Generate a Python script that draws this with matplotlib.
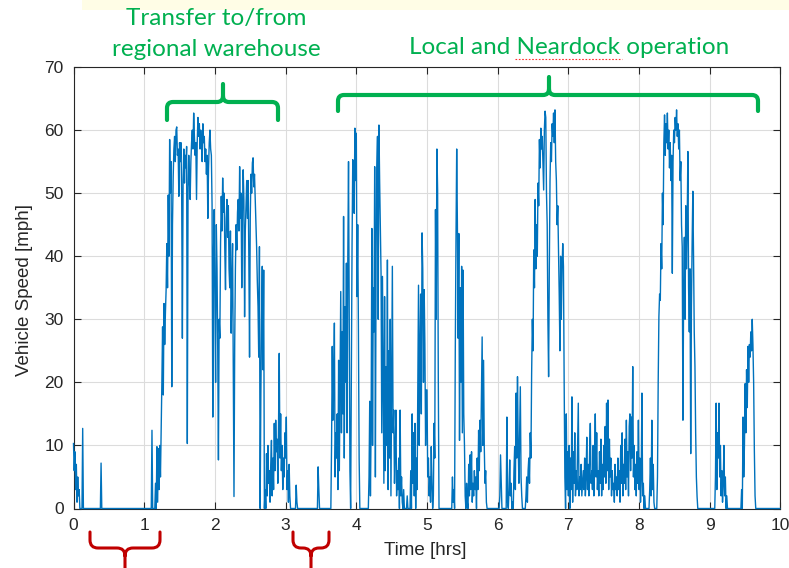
import numpy as np
import matplotlib
matplotlib.use("Agg")
import matplotlib.pyplot as plt
from matplotlib.path import Path
from matplotlib.patches import PathPatch, Rectangle
from matplotlib.lines import Line2D

# speed samples [mph], one list per hour (0.01 hr steps)
hour0 = [10.3, 6, 9, 3, 7, 1, 5, 2, 3] + [0] * 4 + [12.7, 0] + [0] * 24 + [7.2] + [0] * 60
hour1 = [0] * 11 + [12.4, 0, 0, 0, 0, 4, 0, 9.8, 1, 9.5,
                    3, 10, 5, 12, 20, 28.8, 18, 32.5, 26, 31,
                    34.7, 42, 35, 49.7, 40, 58.5, 50, 55, 19.3, 45,
                    52.6, 57, 59, 55, 60, 60.5, 56, 57, 49.5, 58,
                    55, 58, 50, 27, 52, 57, 51.6, 56, 54, 57.4,
                    10.3, 50, 56, 52, 49, 55, 58, 60, 57, 62.7,
                    59, 56, 58, 49, 58, 62, 59, 61, 57, 60,
                    58, 55, 61, 58, 59, 55, 57, 53, 56, 46,
                    54, 58, 60, 57, 56, 48, 14.5, 40, 47.4]
hour2 = [32, 20, 45, 38, 25, 7.7, 30, 27, 42, 49.5,
         44, 52.4, 47, 50, 41, 34.7, 46, 49, 43, 48,
         38, 35, 44, 27.8, 36, 42, 22, 1.9, 26, 38,
         45, 41, 47, 49, 44, 54.2, 46, 50, 35, 47,
         53.7, 49, 30.4, 44, 48, 52, 46, 52, 40, 24,
         46, 53, 50, 54.8, 55.6, 51, 53, 49, 45, 41.5,
         36, 32, 24, 41.5, 0, 18, 30, 38.4, 22, 37.8,
         0, 3, 0, 8.7, 2, 10, 4, 6, 1, 7,
         10.8, 2, 8, 3, 13.5, 6, 14, 9, 11, 4,
         13, 24.6, 8, 15, 6, 10, 3, 8, 5, 12]
hour3 = ([8, 14.5, 3, 6, 1, 7, 2, 0, 0, 0, 0, 0, 0, 0, 0, 3.7, 1] + [0] * 29
         + [6.6, 3] + [0] * 17
         + [10, 25.7, 14, 20, 29.4, 5, 12, 8, 15, 3,
            23.5, 6, 20, 34.4, 12, 28, 15, 46.3, 8, 32,
            20, 38.9, 12, 40, 55, 30, 6, 0, 20, 42,
            55.3, 50, 46.8, 60.3, 52])
hour4 = ([59.5, 33.6, 45, 28.3, 8] + [0] * 13
         + [5, 17, 2, 14, 44.4, 10, 35, 28, 54.2, 5, 40, 54,
            59, 30, 60.8, 52, 44.7, 37.3, 12, 36.8, 20, 4,
            33.6, 6, 22.5, 10, 39.4, 3, 25, 8, 30, 2,
            20, 38.4, 12, 15.6, 4, 9, 15.6, 2, 6, 3,
            8, 0, 15.6, 2, 5, 1, 0, 3, 0, 0,
            0, 0, 2, 0, 0, 0, 0, 6, 0, 15,
            4, 12, 2, 13.5, 0, 8, 3, 20, 35.4, 10,
            25, 34, 15, 43.7, 38, 20, 34.7, 26, 10, 18.8])
hour5 = ([18.8, 5, 8, 2, 5, 1, 9.8, 4, 0, 2, 13.5, 8, 47.4, 30, 57, 50.5, 20, 0]
         + [0] * 17
         + [0, 5, 1, 3, 0,
            25, 42.6, 57, 45, 27, 43.6, 10.8, 35, 20, 38.4,
            12, 37.8, 15, 10, 2, 0, 4, 1, 0, 7,
            2, 8.5, 3, 9, 1, 4, 2, 6, 3, 5,
            0, 8, 3, 12.4, 6, 14, 9, 18, 27.2, 10,
            23.5, 9.8, 4, 6, 1, 0] + [0] * 14)
hour6 = ([0, 0, 0, 2, 8.5, 4, 0] + [0] * 6
         + [14.5, 1, 0, 3, 7.7, 2, 4, 0, 1, 0,
            6, 9.8, 3, 18.3, 8, 20.9, 10, 4, 12, 19.3,
            5, 2, 0, 0, 0, 0, 0, 2, 5, 1, 6, 8]
         + [4, 12, 8, 21.4, 30, 25, 41, 35, 49, 38,
            45, 40, 51.6, 48, 58.5, 54, 60.3, 57, 59, 55,
            50.5, 60, 63, 62, 50, 45, 30, 20.9, 38, 52,
            58, 55, 61, 59, 62.7, 58, 63.2, 55, 52, 45,
            48, 41, 34, 25, 40, 30, 38, 42, 38.4, 20,
            5, 0, 15, 3, 9])
hour7 = [2, 10, 0, 8, 3, 17.7, 1, 9, 4, 12,
         2, 6, 3, 10, 16.7, 2, 5, 3, 7, 2,
         4, 6, 3, 8, 2, 5, 11.3, 3, 7, 2,
         9, 13.5, 4, 6, 3, 10, 2, 8, 15, 5,
         12, 3, 6, 2, 9, 4, 11, 2, 7, 3,
         10, 5, 13, 4, 16.7, 6, 17.2, 3, 11, 5,
         8, 2, 6, 3, 4, 1, 7, 3, 5, 2,
         8, 3, 6, 1, 10, 4, 12, 2, 7, 4,
         11, 3, 14, 5, 9, 2, 13, 15, 6, 14.5,
         8, 22.5, 5, 10, 3, 7, 2, 9, 4, 14]
hour8 = ([3, 8, 1, 5, 18.3, 2, 4, 0, 2, 0,
          0, 0, 0, 0, 0, 3, 8, 2, 14, 3,
          7, 1, 0, 0, 0, 0,
          5, 20, 30.4, 34, 33, 42, 38, 50, 45, 58,
          62.4, 56, 61, 58, 62.7, 57, 60, 54, 58, 52,
          56, 37.3, 55, 60, 58, 62, 60, 63.2, 59, 61,
          57, 60, 52, 55, 45, 41.5, 14, 35, 43, 30,
          48, 38, 45, 56.6, 35, 28, 38, 8.7, 32, 42,
          50.3, 40, 28, 22.5, 12, 5, 1.9, 0] + [0] * 16)
hour9 = ([0] * 8
         + [5, 16.7, 3, 12, 8, 16.7, 5, 10, 2, 6, 1, 4, 10, 2, 5, 0, 2, 0]
         + [0] * 19
         + [3, 0, 14.5, 5, 10, 19.8, 12, 22, 16, 25.7, 20, 26, 24, 28, 25, 30, 26, 20, 9.3, 2, 0]
         + [0] * 34)

hours = [hour0, hour1, hour2, hour3, hour4, hour5, hour6, hour7, hour8, hour9]
x_ticks = list(range(0, 11))
y_ticks = list(range(0, 71, 10))

W, H = 789, 568
plt.rcParams["font.family"] = ["Liberation Sans", "DejaVu Sans"]
fig = plt.figure(figsize=(W / 100, H / 100), dpi=100)
ax = fig.add_axes([73.5 / W, 1 - 508.5 / H, (780.5 - 73.5) / W, (508.5 - 67) / H])

t = np.concatenate([np.linspace(h, h + 1, len(v), endpoint=False) for h, v in enumerate(hours)])
speed = np.concatenate([np.asarray(v, dtype=float) for v in hours])
ax.plot(t, speed, color="#0072BD", lw=1.0, clip_on=False, zorder=3)

ax.set_xlim(0, 10)
ax.set_ylim(0, 70)
ax.set_xticks(x_ticks)
ax.set_yticks(y_ticks)
ax.grid(True, color="#dcdcdc", lw=0.8)
ax.set_axisbelow(True)
ax.tick_params(direction="in", top=True, right=True, length=5, width=0.8,
               colors="#262626", labelsize=12.5, pad=7)
for s in ax.spines.values():
    s.set_color("#262626")
    s.set_linewidth(0.8)
ax.set_xlabel("Time [hrs]", fontsize=13.5, color="#262626")
ax.set_ylabel("Vehicle Speed [mph]", fontsize=13.5, color="#262626")
ax.xaxis.set_label_coords((425 - 73.5) / 707, (508.5 - 542) / 441.5)
ax.yaxis.set_label_coords((33 - 73.5) / 707, (508.5 - 290) / 441.5)


def fx(x, y):
    return (x / W, 1 - y / H)


def bracket(xl, xr, xc, y_arm, y_bar, y_tip, color, lw, r=6):
    a = np.sign(y_arm - y_bar)
    verts = [(xl, y_arm), (xl, y_bar + a * r), (xl, y_bar), (xl + r, y_bar),
             (xc - r, y_bar), (xc, y_bar), (xc, y_bar - a * r), (xc, y_tip),
             (xc, y_bar - a * r), (xc, y_bar), (xc + r, y_bar),
             (xr - r, y_bar), (xr, y_bar), (xr, y_bar + a * r), (xr, y_arm)]
    codes = [Path.MOVETO, Path.LINETO, Path.CURVE3, Path.CURVE3,
             Path.LINETO, Path.CURVE3, Path.CURVE3, Path.LINETO,
             Path.MOVETO, Path.CURVE3, Path.CURVE3,
             Path.LINETO, Path.CURVE3, Path.CURVE3, Path.LINETO]
    p = Path([fx(*v) for v in verts], codes)
    fig.add_artist(PathPatch(p, transform=fig.transFigure, fill=False,
                             edgecolor=color, lw=lw, capstyle="round",
                             joinstyle="round", zorder=5))


# pale banner at the top
fig.add_artist(Rectangle(fx(82, 10), 1 - 82 / W, 10 / H, transform=fig.transFigure,
                         facecolor="#FFFDE6", edgecolor="none", zorder=0))

green = "#00B050"
red = "#C00000"
fig.text(*fx(216, 18), "Transfer to/from", ha="center", va="center",
         color=green, fontsize=17.5, family="Lato")
fig.text(*fx(216, 50), "regional warehouse", ha="center", va="center",
         color=green, fontsize=17.5, family="Lato")
fig.text(*fx(569, 47), "Local and Neardock operation", ha="center", va="center",
         color=green, fontsize=17.5, family="Lato")
fig.add_artist(Line2D([515 / W, 622 / W], [1 - 59 / H, 1 - 59 / H], transform=fig.transFigure,
                      color="#ff3030", lw=0.8, ls=(0, (1.5, 1.5)), zorder=5))

bracket(167, 278, 223, 120, 102, 84, green, 3)
bracket(338, 758, 549, 111, 95, 77, green, 3)
bracket(90, 160, 125, 532, 548, 572, red, 2.2, r=8)
bracket(293, 329, 311, 532, 548, 572, red, 2.2, r=8)

fig.savefig("out.png", dpi=100)
